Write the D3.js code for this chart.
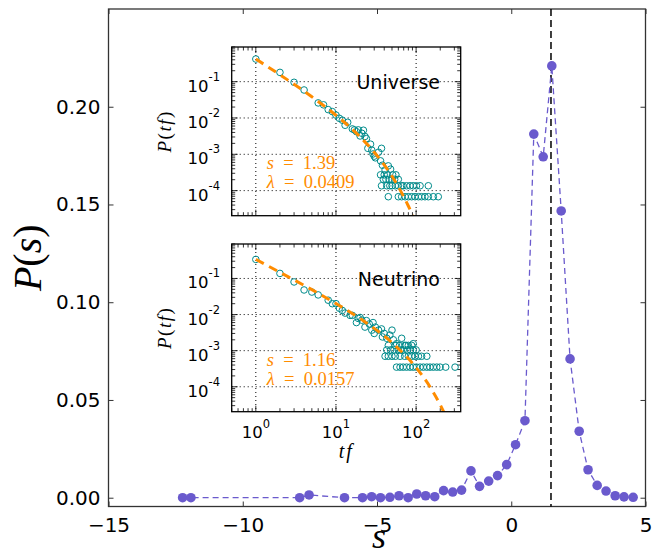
<!DOCTYPE html>
<html>
<head>
<meta charset="utf-8">
<script src="https://cdn.jsdelivr.net/npm/d3@7"></script>
<style>
  body { margin: 0; background: #fff; }
  svg { display: block; }
</style>
</head>
<body>
<svg id="chart" width="652" height="556"></svg>
<script>
// main panel: P(s) against s
const sVals = [-12.24, -11.93, -7.88, -7.53, -6.21, -5.54, -5.20, -4.87, -4.52, -4.18, -3.84, -3.52,
  -3.19, -2.85, -2.52, -2.18, -1.85, -1.50, -1.18, -0.84, -0.51, -0.17, 0.16, 0.51,
  0.84, 1.19, 1.51, 1.86, 2.19, 2.53, 2.86, 3.20, 3.53, 3.87, 4.20, 4.54];
const pVals = [0.0, 0.0, 0.0, 0.0014, 0.0, 0.0, 0.0005, 0.0, 0.0002, 0.0010, 0.0, 0.0019,
  0.0010, 0.0005, 0.0036, 0.0029, 0.0039, 0.0137, 0.0058, 0.0085, 0.0113, 0.0169, 0.0271, 0.0394,
  0.186, 0.1744, 0.2209, 0.1467, 0.0710, 0.0340, 0.0143, 0.0063, 0.0034, 0.0010, 0.0004, 0.0002];
const peakS = 1.48;
const xTicks = [-15, -10, -5, 0, 5];
const yTicks = [0, 0.05, 0.10, 0.15, 0.20];

// inset "Universe"
const uniTf = [1, 2, 3, 4, 6, 7, 8, 9, 10, 11, 12, 13, 14, 16, 17, 18, 19, 20, 21, 22, 23, 24, 25, 27,
  28, 29, 30, 31, 34, 36, 37, 38, 41, 45, 48,
  36, 40, 44, 51, 56,
  39, 42, 46, 50, 54, 60,
  37, 43, 47, 50, 55, 60, 66, 69, 76, 84, 92, 101, 112, 142,
  45, 60, 66, 73, 80, 88, 97, 107, 117, 129, 142, 164, 189];
const uniP = [0.42, 0.18, 0.096, 0.059, 0.026, 0.023, 0.017, 0.015, 0.012, 0.0098, 0.0087, 0.0063, 0.0076,
  0.005, 0.0047, 0.0042, 0.0047, 0.0032, 0.0038, 0.0046, 0.0031, 0.0027, 0.00146, 0.0019,
  0.0013, 0.00102, 0.00089, 0.0008, 0.00114, 0.00066, 0.00146, 0.0005, 0.00037, 0.00048, 0.00039,
  2.72e-4, 2.72e-4, 2.72e-4, 2.72e-4, 2.72e-4,
  2.04e-4, 2.04e-4, 2.04e-4, 2.04e-4, 2.04e-4, 2.04e-4,
  1.36e-4, 1.36e-4, 1.36e-4, 1.36e-4, 1.36e-4, 1.36e-4, 1.36e-4, 1.36e-4, 1.36e-4, 1.36e-4, 1.36e-4, 1.36e-4, 1.36e-4, 1.36e-4,
  6.8e-5, 6.8e-5, 6.8e-5, 6.8e-5, 6.8e-5, 6.8e-5, 6.8e-5, 6.8e-5, 6.8e-5, 6.8e-5, 6.8e-5, 6.8e-5, 6.8e-5];
const uniFitTf = [1, 2, 5, 10, 20, 30, 40, 50, 60, 70, 80, 90, 95];
const uniFitP = [0.42, 0.155, 0.0383, 0.0119, 0.00302, 0.00114, 5.09e-4, 2.48e-4, 1.28e-4, 6.8e-5, 3.77e-5, 2.13e-5, 1.61e-5];

// inset "Neutrino"
const neuTf = [1, 2, 3, 4, 5, 6, 8, 9, 10, 11, 12, 13, 15, 16, 18, 19, 20, 21, 23, 24, 26, 28, 29, 30,
  31, 34, 37, 38, 40, 43, 47, 50, 52, 57, 66, 72, 80, 92,
  45, 55, 62, 75, 88,
  43, 48, 53, 60, 64, 69, 78, 85, 92, 100,
  41, 45, 50, 55, 63, 72, 80, 88, 97, 107, 117, 136,
  57, 63, 69, 76, 84, 92, 101, 112, 123, 136, 149, 164, 181, 199, 234, 306];
const neuP = [0.337, 0.138, 0.080, 0.048, 0.042, 0.035, 0.025, 0.020, 0.020, 0.015, 0.013, 0.011, 0.0095,
  0.0095, 0.006, 0.0078, 0.0083, 0.007, 0.0045, 0.0068, 0.0055, 0.0037, 0.006, 0.003,
  0.0045, 0.0037, 0.004, 0.0024, 0.003, 0.0022, 0.0027, 0.0037, 0.002, 0.00156, 0.0022, 0.0014, 0.0014, 0.00156,
  1.4e-3, 1.4e-3, 1.4e-3, 1.4e-3, 1.4e-3,
  1.05e-3, 1.05e-3, 1.05e-3, 1.05e-3, 1.05e-3, 1.05e-3, 1.05e-3, 1.05e-3, 1.05e-3, 1.05e-3,
  7e-4, 7e-4, 7e-4, 7e-4, 7e-4, 7e-4, 7e-4, 7e-4, 7e-4, 7e-4, 7e-4, 7e-4,
  3.5e-4, 3.5e-4, 3.5e-4, 3.5e-4, 3.5e-4, 3.5e-4, 3.5e-4, 3.5e-4, 3.5e-4, 3.5e-4, 3.5e-4, 3.5e-4, 3.5e-4, 3.5e-4, 3.5e-4, 3.5e-4];
const neuFitTf = [1, 2, 5, 10, 20, 50, 100, 150, 200, 230];
const neuFitP = [0.337, 0.148, 0.0489, 0.0202, 0.00774, 0.001667, 3.40e-4, 9.71e-5, 3.17e-5, 1.68e-5];

const insetXTicks = [1, 10, 100];
const insetYTicks = [1e-1, 1e-2, 1e-3, 1e-4];

const sans = "DejaVu Sans, sans-serif";
const serif = "Liberation Serif, Times New Roman, serif";
const purple = "#6a5acd", teal = "#008b8b", orange = "#ff8c00";

const svg = d3.select("#chart");

const x = d3.scaleLinear().domain([-15, 5]).range([108.5, 645.5]);
const y = d3.scaleLinear().domain([-0.0045, 0.25]).range([506.5, 9]);
const [xl, xr] = x.range(), [yb, yt] = y.range();

function styleAxis(g) {
  g.select(".domain").remove();
  g.selectAll(".tick line").attr("stroke", "#333").attr("stroke-width", 1);
  g.selectAll(".tick text").attr("fill", "#000").attr("font-family", sans).attr("font-size", 20);
}

svg.append("g").attr("transform", `translate(0,${yb})`)
  .call(d3.axisBottom(x).tickValues(xTicks).tickSizeInner(-5).tickSizeOuter(0).tickPadding(11).tickFormat(d3.format("d")))
  .call(styleAxis);
svg.append("g").attr("transform", `translate(0,${yt})`)
  .call(d3.axisTop(x).tickValues(xTicks).tickSizeInner(-5).tickSizeOuter(0).tickFormat(""))
  .call(styleAxis);
svg.append("g").attr("transform", `translate(${xl},0)`)
  .call(d3.axisLeft(y).tickValues(yTicks).tickSizeInner(-5).tickSizeOuter(0).tickPadding(8).tickFormat(d3.format(".2f")))
  .call(styleAxis);
svg.append("g").attr("transform", `translate(${xr},0)`)
  .call(d3.axisRight(y).tickValues(yTicks).tickSizeInner(-5).tickSizeOuter(0).tickFormat(""))
  .call(styleAxis);

svg.append("rect")
  .attr("x", xl).attr("y", yt).attr("width", xr - xl).attr("height", yb - yt)
  .attr("fill", "none").attr("stroke", "#333").attr("stroke-width", 1.3);

// peak marker
svg.append("line")
  .attr("x1", x(peakS)).attr("x2", x(peakS)).attr("y1", yt).attr("y2", yb)
  .attr("stroke", "#000").attr("stroke-width", 1.5).attr("stroke-dasharray", "7,4");

const mainPts = sVals.map((s, i) => [s, pVals[i]]);
svg.append("path")
  .datum(mainPts)
  .attr("fill", "none").attr("stroke", purple).attr("stroke-width", 1.3).attr("stroke-dasharray", "6,4")
  .attr("d", d3.line().x(d => x(d[0])).y(d => y(d[1])));
svg.append("g").selectAll("circle")
  .data(mainPts).enter().append("circle")
  .attr("cx", d => x(d[0])).attr("cy", d => y(d[1])).attr("r", 4.8)
  .attr("fill", purple);

// axis titles
svg.append("text")
  .attr("transform", `translate(${(xl + xr) / 2 + 2},548)`)
  .attr("text-anchor", "middle").attr("font-family", serif).attr("font-style", "italic").attr("font-size", 36)
  .text("s");
svg.append("text")
  .attr("transform", `translate(41,${(yt + yb) / 2}) rotate(-90)`)
  .attr("text-anchor", "middle").attr("font-family", serif).attr("font-size", 40)
  .html('<tspan font-style="italic">P</tspan>(<tspan font-style="italic">s</tspan>)');

function drawInset(cfg) {
  const xs = d3.scaleLog().domain([0.5, 360]).range([231.7, 460.7]);
  const ys = d3.scaleLog().domain([2.04e-5, 0.9]).range([cfg.bottom, cfg.top]);
  const [x0, x1] = xs.range();
  const g = svg.append("g");
  const clipId = "clip-" + cfg.name;

  g.append("clipPath").attr("id", clipId).append("rect")
    .attr("x", x0).attr("y", cfg.top).attr("width", x1 - x0).attr("height", cfg.bottom - cfg.top);

  g.append("rect")
    .attr("x", x0).attr("y", cfg.top).attr("width", x1 - x0).attr("height", cfg.bottom - cfg.top)
    .attr("fill", "#fff");

  // dotted grid at decades
  g.selectAll(".gx").data(insetXTicks).enter().append("line")
    .attr("x1", d => xs(d)).attr("x2", d => xs(d)).attr("y1", cfg.top).attr("y2", cfg.bottom)
    .attr("stroke", "#000").attr("stroke-width", 1).attr("stroke-dasharray", "1,3");
  g.selectAll(".gy").data(insetYTicks).enter().append("line")
    .attr("x1", x0).attr("x2", x1).attr("y1", d => ys(d)).attr("y2", d => ys(d))
    .attr("stroke", "#000").attr("stroke-width", 1).attr("stroke-dasharray", "1,3");

  const isMajor = v => Math.abs(Math.log10(v) - Math.round(Math.log10(v))) < 1e-6;
  const tickG = g.append("g").attr("stroke", "#000").attr("stroke-width", 0.8);
  xs.ticks().forEach(v => {
    const len = isMajor(v) ? 6 : 3.5;
    tickG.append("line").attr("x1", xs(v)).attr("x2", xs(v)).attr("y1", cfg.bottom).attr("y2", cfg.bottom - len);
    tickG.append("line").attr("x1", xs(v)).attr("x2", xs(v)).attr("y1", cfg.top).attr("y2", cfg.top + len);
  });
  ys.ticks().forEach(v => {
    const len = isMajor(v) ? 6 : 3.5;
    tickG.append("line").attr("y1", ys(v)).attr("y2", ys(v)).attr("x1", x0).attr("x2", x0 + len);
    tickG.append("line").attr("y1", ys(v)).attr("y2", ys(v)).attr("x1", x1).attr("x2", x1 - len);
  });

  const data = g.append("g").attr("clip-path", `url(#${clipId})`);
  data.selectAll("circle")
    .data(cfg.tf.map((t, i) => [t, cfg.p[i]])).enter().append("circle")
    .attr("cx", d => xs(d[0])).attr("cy", d => ys(d[1])).attr("r", 3.3)
    .attr("fill", "none").attr("stroke", teal).attr("stroke-width", 1);
  data.append("path")
    .datum(cfg.fitTf.map((t, i) => [t, cfg.fitP[i]]))
    .attr("fill", "none").attr("stroke", orange).attr("stroke-width", 3).attr("stroke-dasharray", "9,6")
    .attr("d", d3.line().x(d => xs(d[0])).y(d => ys(d[1])).curve(d3.curveMonotoneX));

  g.append("rect")
    .attr("x", x0).attr("y", cfg.top).attr("width", x1 - x0).attr("height", cfg.bottom - cfg.top)
    .attr("fill", "none").attr("stroke", "#000").attr("stroke-width", 1.3);

  // tick labels
  insetYTicks.forEach(v => {
    g.append("text")
      .attr("x", 220).attr("y", ys(v) + 10)
      .attr("text-anchor", "end").attr("font-family", sans).attr("font-size", 16.5)
      .html(`10<tspan font-size="11.5" dy="-11">${Math.round(Math.log10(v))}</tspan>`);
  });
  if (cfg.xLabels) {
    insetXTicks.forEach(v => {
      g.append("text")
        .attr("x", xs(v)).attr("y", cfg.bottom + 26.5)
        .attr("text-anchor", "middle").attr("font-family", sans).attr("font-size", 16.5)
        .html(`10<tspan font-size="11.5" dy="-10">${Math.round(Math.log10(v))}</tspan>`);
    });
    g.append("text")
      .attr("x", (x0 + x1) / 2).attr("y", cfg.bottom + 46)
      .attr("text-anchor", "middle").attr("font-family", serif).attr("font-style", "italic").attr("font-size", 20)
      .attr("letter-spacing", 2)
      .text("tf");
  }

  g.append("text")
    .attr("transform", `translate(171,${(cfg.top + cfg.bottom) / 2}) rotate(-90)`)
    .attr("text-anchor", "middle").attr("font-family", serif).attr("font-size", 19).attr("letter-spacing", 1.5)
    .html('<tspan font-style="italic">P</tspan>(<tspan font-style="italic">tf</tspan>)');

  g.append("text")
    .attr("x", 440).attr("y", cfg.top + 41.7)
    .attr("text-anchor", "end").attr("font-family", sans).attr("font-size", 19)
    .text(cfg.name);

  g.append("text")
    .attr("x", 266.7).attr("y", cfg.top + 122)
    .attr("font-family", serif).attr("font-size", 18.5).attr("fill", orange)
    .attr("xml:space", "preserve")
    .html(`<tspan font-style="italic">s</tspan>  =  ${cfg.sLabel}`);
  g.append("text")
    .attr("x", 266.7).attr("y", cfg.top + 141)
    .attr("font-family", serif).attr("font-size", 18.5).attr("fill", orange)
    .attr("xml:space", "preserve")
    .html(`<tspan font-style="italic">λ</tspan>  =  ${cfg.lamLabel}`);
}

drawInset({ name: "Universe", top: 47, bottom: 215.7, tf: uniTf, p: uniP,
  fitTf: uniFitTf, fitP: uniFitP, sLabel: "1.39", lamLabel: "0.0409", xLabels: false });
drawInset({ name: "Neutrino", top: 244, bottom: 411.7, tf: neuTf, p: neuP,
  fitTf: neuFitTf, fitP: neuFitP, sLabel: "1.16", lamLabel: "0.0157", xLabels: true });
</script>
</body>
</html>
